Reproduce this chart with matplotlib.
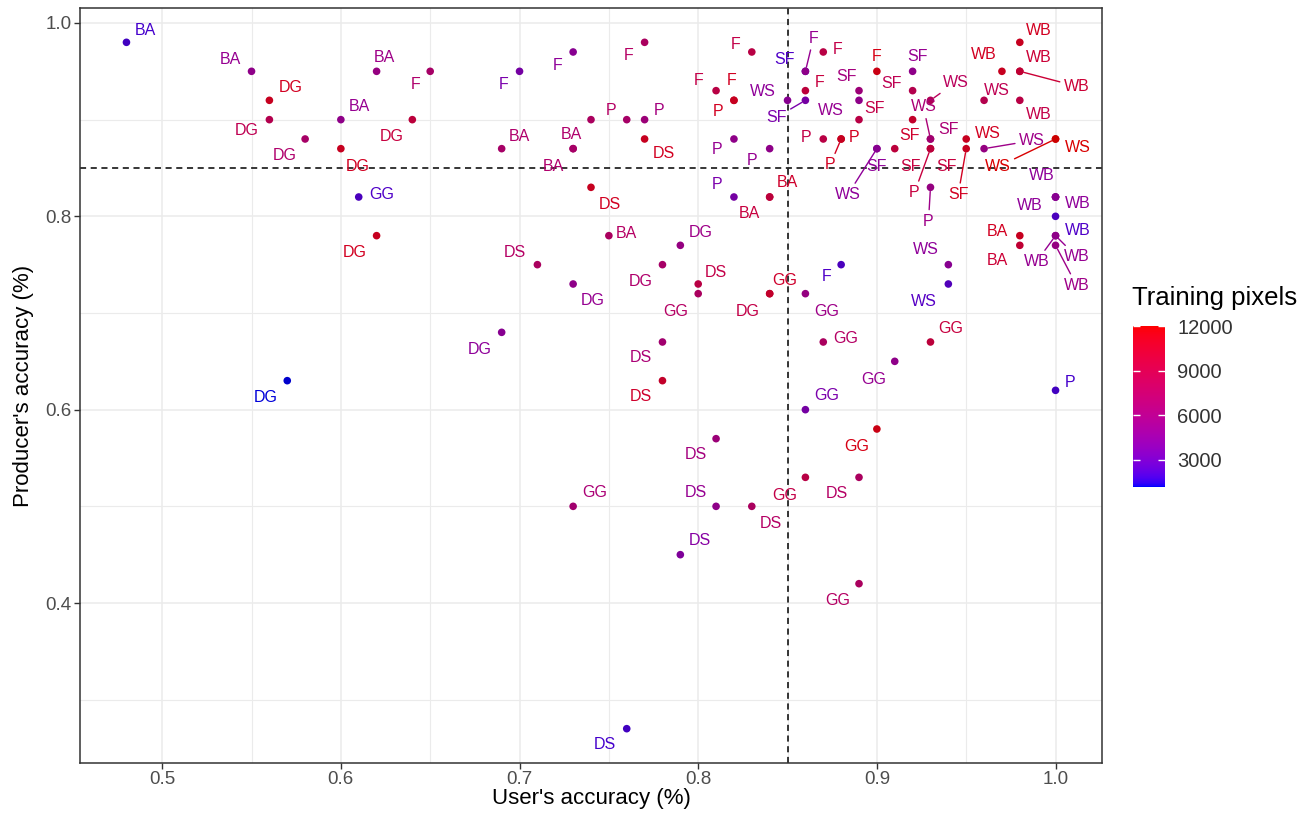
import numpy as np
import matplotlib
matplotlib.use("Agg")
import matplotlib.pyplot as plt
from matplotlib.colors import ListedColormap, Normalize
from matplotlib.ticker import FormatStrFormatter

plt.rcParams['font.family'] = ['Liberation Sans', 'DejaVu Sans']

# class of each accuracy pair
cls = ['BA', 'BA', 'DG', 'DG', 'DG', 'BA', 'DG', 'BA', 'DG', 'F',
       'GG', 'DG', 'DG', 'F', 'F', 'F', 'F', 'F', 'P', 'F',
       'P', 'P', 'P', 'DS', 'BA', 'BA', 'BA', 'DS', 'BA', 'DG',
       'DS', 'DG', 'DG', 'DS', 'GG', 'DG', 'GG', 'DG', 'DS', 'DS',
       'DS', 'GG', 'DS', 'DS', 'DS', 'GG', 'DS', 'F', 'GG', 'GG',
       'GG', 'GG', 'P', 'GG', 'GG', 'GG', 'DS', 'WS', 'WS', 'SF',
       'F', 'F', 'F', 'SF', 'WS', 'P', 'BA', 'BA', 'P', 'P',
       'P', 'P', 'P', 'SF', 'WS', 'SF', 'F', 'SF', 'WS', 'SF',
       'SF', 'SF', 'SF', 'WS', 'WS', 'SF', 'P', 'SF', 'P', 'WS',
       'SF', 'WS', 'WS', 'WS', 'WS', 'WB', 'WB', 'WB', 'WB', 'WB',
       'WB', 'WB', 'WB', 'WB', 'WB', 'WB', 'WB', 'BA', 'BA']

users_acc = [0.48, 0.55, 0.56, 0.56, 0.58, 0.60, 0.60, 0.62, 0.64, 0.65,
             0.61, 0.62, 0.57, 0.70, 0.73, 0.77, 0.81, 0.82, 0.82, 0.83,
             0.74, 0.76, 0.77, 0.77, 0.69, 0.73, 0.73, 0.74, 0.75, 0.79,
             0.71, 0.78, 0.73, 0.80, 0.80, 0.84, 0.84, 0.69, 0.78, 0.78,
             0.81, 0.73, 0.81, 0.83, 0.79, 0.89, 0.76, 0.88, 0.86, 0.87,
             0.93, 0.91, 1.00, 0.86, 0.90, 0.86, 0.89, 0.94, 0.94, 0.86,
             0.86, 0.87, 0.86, 0.86, 0.85, 0.84, 0.84, 0.84, 0.82, 0.82,
             0.87, 0.88, 0.88, 0.89, 0.89, 0.89, 0.90, 0.90, 0.90, 0.91,
             0.92, 0.92, 0.92, 0.93, 0.93, 0.93, 0.93, 0.93, 0.93, 0.95,
             0.95, 0.96, 1.00, 1.00, 0.96, 0.97, 0.98, 0.98, 0.98, 0.98,
             1.00, 1.00, 1.00, 1.00, 1.00, 1.00, 1.00, 0.98, 0.98]

producers_acc = [0.98, 0.95, 0.92, 0.90, 0.88, 0.90, 0.87, 0.95, 0.90, 0.95,
                 0.82, 0.78, 0.63, 0.95, 0.97, 0.98, 0.93, 0.92, 0.92, 0.97,
                 0.90, 0.90, 0.90, 0.88, 0.87, 0.87, 0.87, 0.83, 0.78, 0.77,
                 0.75, 0.75, 0.73, 0.73, 0.72, 0.72, 0.72, 0.68, 0.67, 0.63,
                 0.57, 0.50, 0.50, 0.50, 0.45, 0.42, 0.27, 0.75, 0.72, 0.67,
                 0.67, 0.65, 0.62, 0.60, 0.58, 0.53, 0.53, 0.75, 0.73, 0.95,
                 0.95, 0.97, 0.93, 0.92, 0.92, 0.87, 0.82, 0.82, 0.88, 0.82,
                 0.88, 0.88, 0.88, 0.93, 0.92, 0.90, 0.95, 0.87, 0.87, 0.87,
                 0.95, 0.93, 0.90, 0.92, 0.88, 0.88, 0.87, 0.87, 0.83, 0.88,
                 0.87, 0.87, 0.88, 0.88, 0.92, 0.95, 0.98, 0.95, 0.95, 0.92,
                 0.82, 0.82, 0.82, 0.80, 0.78, 0.78, 0.77, 0.78, 0.77]

train_px = [1800, 5000, 11000, 8500, 7000, 5000, 11000, 5500, 9500, 7000,
            2000, 11000, 1150, 3500, 4500, 7500, 9000, 11000, 11000, 9000,
            7500, 7000, 6000, 11000, 7000, 7000, 7000, 11000, 7500, 5500,
            7500, 7000, 5000, 9000, 7500, 9000, 10500, 4500, 6500, 10500,
            6000, 6500, 5000, 7500, 4000, 7500, 1800, 2000, 5500, 7500,
            9500, 5000, 1800, 3500, 11500, 9000, 7500, 4500, 2200, 2000,
            5000, 9000, 9500, 3500, 4500, 5000, 10500, 9500, 5000, 3500,
            9000, 11000, 11000, 6000, 5000, 9000, 11500, 4500, 4500, 9500,
            5000, 8500, 10500, 8000, 6500, 6500, 9500, 9500, 5500, 11000,
            11000, 5500, 12000, 12000, 8500, 11000, 11000, 10000, 10000, 9000,
            4500, 4500, 4500, 2000, 5000, 5000, 5500, 11000, 10000]

# label placement: pixel offset from the point (right / up), None = label dropped
lab_dx = [19, -21, 21, -23, -20, 19, 17, 8, -21, -15,
          23, -22, -22, -16, -16, -16, -17, -2, -16, -16,
          20, None, 14, 19, 18, -2, -20, 19, 18, 20,
          -23, -22, 20, 18, -22, -22, 15, -22, -22, -22,
          -20, 22, -20, 19, 20, -21, -22, -15, 21, 22,
          20, -21, 15, 21, -20, -21, -22, -22, -24, -21,
          8, 14, 14, -29, -25, -18, 18, -20, -17, -17,
          -17, 13, -11, -12, -28, 16, 0, 0, -29, 16,
          5, -21, -3, 25, -7, 18, -16, 16, -2, 22,
          -8, 48, 22, -58, 13, -18, 19, 19, 57, 19,
          -14, 22, -26, 22, -19, 21, 21, -22, -22]
lab_dy = [12, 12, 13, -11, -17, 13, -18, 14, -17, -13,
          2, -17, -17, -13, -14, -13, 10, 20, -11, 7,
          9, None, 9, -15, 12, 14, -18, -17, 2, 13,
          12, -17, -17, 11, -18, -18, 13, -17, -16, -16,
          -16, 14, 14, -17, 14, -17, -16, -12, -18, 3,
          13, -18, 8, 14, -17, -18, -16, 15, -18, 12,
          33, 2, 8, -17, 9, -12, 14, -17, -11, 12,
          1, 1, -26, 14, -10, 11, 15, -18, -46, -18,
          15, 7, -16, 18, 32, 9, -44, -18, -34, 5,
          -46, 8, -9, -28, 10, 17, 12, 14, -15, -14,
          21, -7, -9, -14, -26, -21, -40, 4, -15]
leader = [0] * 60 + [1, 0, 0, 1, 0, 0, 0, 0, 0, 0,
                     0, 0, 1, 0, 0, 0, 0, 0, 1, 0,
                     0, 0, 0, 1, 1, 0, 1, 0, 1, 0,
                     1, 1, 0, 1, 0, 0, 0, 0, 1, 0,
                     0, 0, 0, 0, 1, 1, 1, 0, 0]


def srgb_to_lab(rgb):
    c = np.asarray(rgb, float)
    lin = np.where(c <= 0.04045, c / 12.92, ((c + 0.055) / 1.055) ** 2.4)
    xyz = M @ lin / WHITE
    f = np.where(xyz > (6 / 29) ** 3, np.cbrt(xyz), xyz / (3 * (6 / 29) ** 2) + 4 / 29)
    return np.array([116 * f[1] - 16, 500 * (f[0] - f[1]), 200 * (f[1] - f[2])])


def lab_to_srgb(lab):
    L, a, b = lab
    fy = (L + 16) / 116
    f = np.array([fy + a / 500, fy, fy - b / 200])
    xyz = np.where(f > 6 / 29, f ** 3, 3 * (6 / 29) ** 2 * (f - 4 / 29)) * WHITE
    lin = np.clip(np.linalg.inv(M) @ xyz, 0, None)
    c = np.where(lin <= 0.0031308, 12.92 * lin, 1.055 * lin ** (1 / 2.4) - 0.055)
    return np.clip(c, 0, 1)


M = np.array([[0.4124564, 0.3575761, 0.1804375],
              [0.2126729, 0.7151522, 0.0721750],
              [0.0193339, 0.1191920, 0.9503041]])
WHITE = np.array([0.95047, 1.0, 1.08883])

# blue -> red gradient interpolated in CIELAB (like ggplot2)
lo, hi = srgb_to_lab([0, 0, 1]), srgb_to_lab([1, 0, 0])
cmap = ListedColormap([lab_to_srgb(lo + t * (hi - lo)) for t in np.linspace(0, 1, 256)])
norm = Normalize(min(train_px), max(train_px))


def mark_colour(v, k=0.8):
    # the marks in the reference read a bit darker than the bar
    r, g, b, _ = cmap(norm(v))
    return (r * k, g * k, b * k)


fig = plt.figure(figsize=(13.15, 8.3), dpi=100)
ax = fig.add_axes([80 / 1315, 1 - 763 / 830, 1022 / 1315, 755 / 830])

ax.set_xlim(0.454, 1.026)
ax.set_ylim(0.2345, 1.0155)
ax.set_xticks([0.5, 0.6, 0.7, 0.8, 0.9, 1.0])
ax.set_xticks([0.55, 0.65, 0.75, 0.85, 0.95], minor=True)
ax.set_yticks([0.4, 0.6, 0.8, 1.0])
ax.set_yticks([0.3, 0.5, 0.7, 0.9], minor=True)
ax.xaxis.set_major_formatter(FormatStrFormatter('%.1f'))
ax.yaxis.set_major_formatter(FormatStrFormatter('%.1f'))
ax.grid(which='major', color='#EBEBEB', lw=1.1, zorder=0)
ax.grid(which='minor', color='#EBEBEB', lw=0.8, zorder=0)
ax.set_axisbelow(True)
ax.tick_params(which='major', length=4, width=1, color='#333333',
               labelsize=13.5, labelcolor='#4D4D4D', pad=2)
ax.tick_params(which='minor', length=0)
for sp in ax.spines.values():
    sp.set_color('#333333')
    sp.set_linewidth(1.1)

ax.axvline(0.85, color='black', ls=(0, (4, 3)), lw=1.1, zorder=2)
ax.axhline(0.85, color='black', ls=(0, (4, 3)), lw=1.1, zorder=2)

sc = ax.scatter(users_acc, producers_acc, c=train_px, cmap=cmap, norm=norm,
                s=0, linewidths=0)
ax.scatter(users_acc, producers_acc, c=[mark_colour(v) for v in train_px],
           s=30, linewidths=0, zorder=3)

for i, name in enumerate(cls):
    if lab_dx[i] is None:
        continue
    col = mark_colour(train_px[i], 0.85)
    arrow = None
    if leader[i]:
        arrow = dict(arrowstyle='-', color=col, lw=1, shrinkA=1, shrinkB=3)
    ax.annotate(name, (users_acc[i], producers_acc[i]),
                xytext=(lab_dx[i], lab_dy[i]), textcoords='offset pixels',
                ha='center', va='center', fontsize=11.5, color=col,
                arrowprops=arrow, zorder=4)

ax.set_xlabel("User's accuracy (%)", fontsize=16)
ax.set_ylabel("Producer's accuracy (%)", fontsize=16)
ax.xaxis.set_label_coords(0.5, -0.033)
ax.yaxis.set_label_coords(-0.045, 0.5)

cax = fig.add_axes([1133 / 1315, 1 - 487 / 830, 32 / 1315, 161 / 830])
cb = fig.colorbar(sc, cax=cax, ticks=[3000, 6000, 9000, 12000])
cb.outline.set_visible(False)
cax.tick_params(direction='in', color='white', length=5, width=1,
                left=True, right=True, labelsize=14.5, labelcolor='#333333', pad=9)
fig.text(1132 / 1315, 1 - 298 / 830, 'Training pixels', fontsize=18.5,
         ha='left', va='center')

fig.savefig('out.png', dpi=100)
